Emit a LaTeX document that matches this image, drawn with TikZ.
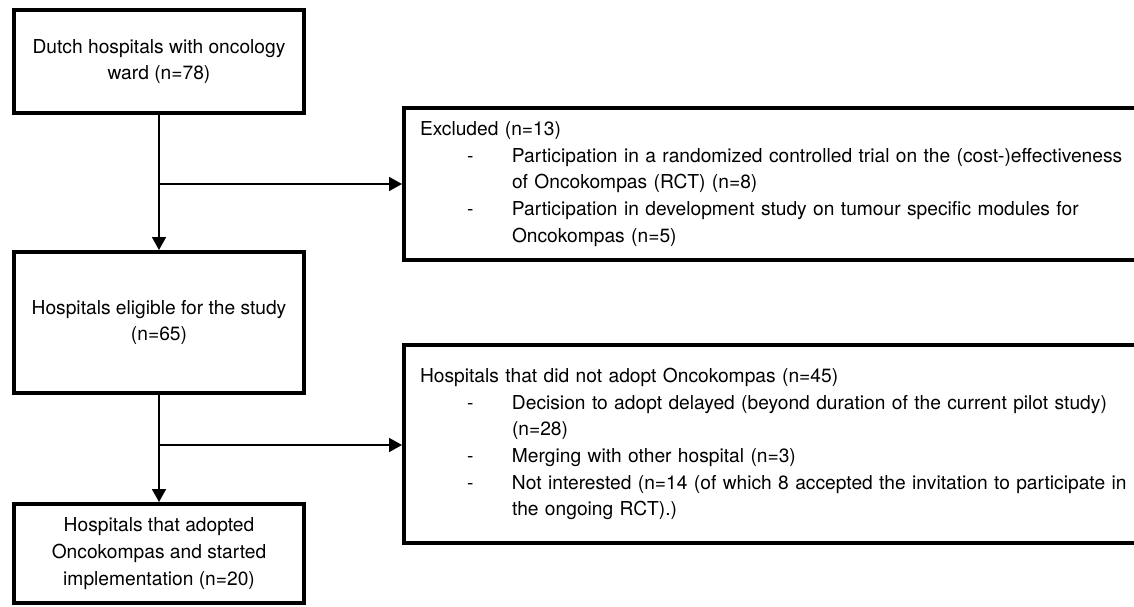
\documentclass[tikz,border=0pt]{standalone}
\usepackage{fontspec}
\setmainfont{TeX Gyre Heros}
\usetikzlibrary{calc,arrows.meta}
\newcommand{\dashitem}{\makebox[92pt][l]{\hspace{47pt}-}}
\newcommand{\contline}{\hspace*{92pt}}

\begin{document}
\begin{tikzpicture}[x=1pt,y=-1pt,font=\fontsize{19.2}{26.7}\selectfont]
       \tikzstyle{frame} = [rectangle, draw=black, line width=4pt, align=center, inner sep=0pt, minimum width=290pt];
       \tikzstyle{side} = [rectangle, draw=black, line width=4pt, anchor=west, text width=730pt, align=left, inner xsep=16pt, inner ysep=0pt];
       \tikzstyle{line} = [line width=1.7pt];
       \tikzstyle{arr} = [line width=1.7pt, -{Triangle[width=14pt,length=13pt]}];
       \clip (0,0) rectangle (1134,607);

       % left column
       \node[frame, minimum height=103pt] (dutch) at (159,61.5) {Dutch hospitals with oncology\\ward (n=78)};
       \node[frame, minimum height=141pt] (eligible) at (159,322.5) {Hospitals eligible for the study\\(n=65)};
       \node[frame, minimum height=99pt] (adopted) at (159,553.5) {Hospitals that adopted\\Oncokompas and started\\implementation (n=20)};

       % right column
       \node[side, minimum height=152pt] (excluded) at (402,184) {Excluded (n=13)\\
         \dashitem Participation in a randomized controlled trial on the (cost-)effectiveness\\
         \contline of Oncokompas (RCT) (n=8)\\
         \dashitem Participation in development study on tumour specific modules for\\
         \contline Oncokompas (n=5)};
       \node[side, minimum height=198pt] (notadopt) at (402,444) {Hospitals that did not adopt Oncokompas (n=45)\\
         \dashitem Decision to adopt delayed (beyond duration of the current pilot study)\\
         \contline (n=28)\\
         \dashitem Merging with other hospital (n=3)\\
         \dashitem Not interested (n=14 (of which 8 accepted the invitation to participate in\\
         \contline the ongoing RCT).)};

       \coordinate (split1) at ($(dutch.south)+(0,69)$);
       \coordinate (split2) at ($(eligible.south)+(0,50)$);

       \draw[line] (dutch.south) -- (split1);
       \draw[arr] (split1) -- (eligible.north);
       \draw[arr] (split1) -- (split1 -| excluded.west);

       \draw[line] (eligible.south) -- (split2);
       \draw[arr] (split2) -- (adopted.north);
       \draw[arr] (split2) -- (split2 -| notadopt.west);
     \end{tikzpicture}
\end{document}
